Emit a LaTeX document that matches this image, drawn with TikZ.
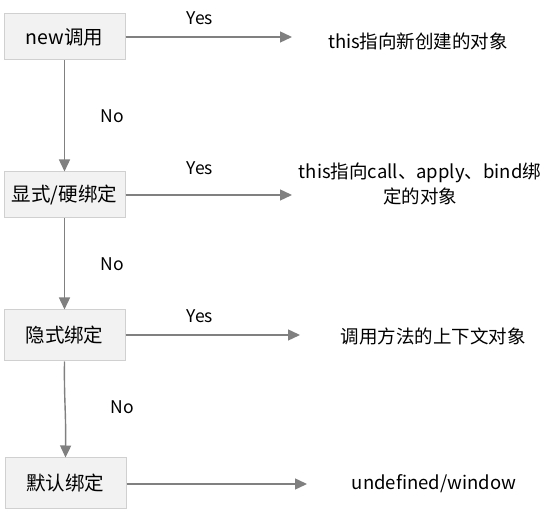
\documentclass[tikz,border=0pt]{standalone}
\usepackage{fontspec}
\setmainfont{Noto Sans CJK SC}
\usetikzlibrary{arrows.meta}
\definecolor{boxfill}{HTML}{F2F2F2}
\definecolor{boxline}{HTML}{D0D0D0}
\definecolor{arr}{HTML}{808080}
\begin{document}
\begin{tikzpicture}[x=1pt,y=-1pt,
  box/.style={draw=boxline,fill=boxfill,line width=1pt,minimum width=121pt,minimum height=46pt,inner sep=0pt,font=\fontsize{19.5}{23}\selectfont},
  lbl/.style={font=\fontsize{17.5}{20}\selectfont,inner sep=0pt},
  res/.style={font=\fontsize{18.5}{25}\selectfont,inner sep=0pt,align=center},
  conn/.style={draw=arr,line width=1.4pt,-{Triangle[length=12pt,width=11pt]}}]
\useasboundingbox (0,0) rectangle (560,518);
\node[box] (b1) at (64.5,37) {new调用};
\node[box] (b2) at (64.5,195) {显式/硬绑定};
\node[box,minimum height=51pt] (b3) at (64.5,335.5) {隐式绑定};
\node[box,minimum height=51pt] (b4) at (65.5,483.5) {默认绑定};
\coordinate (e1) at (292,37);
\coordinate (e2) at (292,195);
\coordinate (e3) at (300,335);
\coordinate (e4) at (307,484);
\node[res] (r1) at (418,41) {this指向新创建的对象};
\node[res] (r2) at (420,184) {this指向call、apply、bind绑\\定的对象};
\node[res] (r3) at (433,336) {调用方法的上下文对象};
\node[res] (r4) at (434,484) {undefined/window};
\draw[conn] (b1.east |- e1) -- (e1);
\draw[conn] (b2.east |- e2) -- (e2);
\draw[conn] (b3.east |- e3) -- (e3);
\draw[conn] (b4.east |- e4) -- (e4);
\draw[conn] (b1.south) -- (b2.north);
\draw[conn] (b2.south) -- (b3.north);
\draw[conn] (b3.south) .. controls (64,400) and (66,410) .. (b4.north);
\node[lbl] (y1) at (200,18) {Yes};
\node[lbl] (y2) at (200,168) {Yes};
\node[lbl] (y3) at (200,316) {Yes};
\node[lbl] (n1) at (112,116) {No};
\node[lbl] (n2) at (112,264) {No};
\node[lbl] (n3) at (122,407) {No};
\end{tikzpicture}
\end{document}
